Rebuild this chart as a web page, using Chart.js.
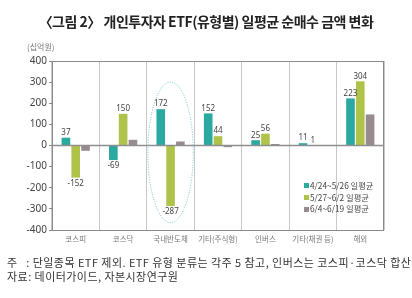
<!DOCTYPE html>
<html><head><meta charset="utf-8">
<script src="https://cdn.jsdelivr.net/npm/chart.js@4/dist/chart.umd.min.js"></script>
<style>
html,body{margin:0;padding:0;background:#fff;}
#wrap{position:relative;width:412px;height:298px;overflow:hidden;font-family:"Noto Sans CJK KR","Noto Sans",sans-serif;}
#c{position:absolute;left:0;top:0;}
.t{position:absolute;white-space:nowrap;}
#title{left:0;width:412px;top:11px;text-align:center;font-size:14px;font-weight:bold;color:#222;letter-spacing:-0.5px;}
#unit{left:27px;top:41px;font-size:8px;color:#777;}
#f1{left:7px;top:254px;font-size:11px;color:#333;letter-spacing:0.45px;}
#f2{left:7px;top:268px;font-size:11px;color:#333;letter-spacing:0.45px;}
#legend{position:absolute;left:304px;top:180px;font-size:8.3px;color:#444;}
#legend div{height:11.7px;line-height:11.7px;}
#legend span.sw{display:inline-block;width:5px;height:5px;margin-right:1px;vertical-align:middle;position:relative;top:-1px;}
</style></head>
<body><div id="wrap">
<canvas id="c" width="412" height="298"></canvas>
<div class="t" id="title">〈그림 2〉 개인투자자 ETF(유형별) 일평균 순매수 금액 변화</div>
<div class="t" id="unit">(십억원)</div>
<div id="legend"></div>
<div class="t" id="f1">주&nbsp;&nbsp;&nbsp;: 단일종목 ETF 제외. ETF 유형 분류는 각주 5 참고, 인버스는 코스피·코스닥 합산</div>
<div class="t" id="f2">자료: 데이터가이드, 자본시장연구원</div>
</div>
<script>
const categories = ['코스피','코스닥','국내반도체','기타(주식형)','인버스','기타(채권 등)','해외'];
const seriesNames = ['4/24~5/26 일평균','5/27~6/2 일평균','6/4~6/19 일평균'];
const series1 = [37, -69, 172, 152, 25, 11, 223];
const series2 = [-152, 150, -287, 44, 56, 1, 304];
const series3 = [-25, 27, 19, -8, 7, 1, 147];
const yTicks = [-400,-300,-200,-100,0,100,200,300,400];
const colors = ['#2aa9a0','#afc34b','#978b90'];
const showLabels = [true,true,false];

const lg = document.getElementById('legend');
seriesNames.forEach((n,i)=>{
  const d=document.createElement('div');
  d.innerHTML='<span class="sw" style="background:'+colors[i]+'"></span>'+n;
  lg.appendChild(d);
});

const framePlugin = {
  id:'frame',
  beforeDatasetsDraw(chart){
    const {ctx, chartArea:a} = chart;
    ctx.save();
    ctx.strokeStyle='#8a8a8a'; ctx.lineWidth=1;
    ctx.strokeRect(a.left+0.5, a.top+0.5, a.right-a.left-1, a.bottom-a.top);
    ctx.restore();
  },
  afterDatasetsDraw(chart){
    const {ctx, chartArea:a, scales} = chart;
    const y0 = scales.y.getPixelForValue(0);
    ctx.save();
    ctx.strokeStyle='#8e8e8e'; ctx.lineWidth=1.5;
    ctx.beginPath(); ctx.moveTo(a.left,y0); ctx.lineTo(a.right,y0); ctx.stroke();
    ctx.font='8px "Noto Sans","DejaVu Sans",sans-serif';
    ctx.fillStyle='#444'; ctx.textAlign='center';
    chart.data.datasets.forEach((ds,di)=>{
      if(!showLabels[di]) return;
      const meta=chart.getDatasetMeta(di);
      meta.data.forEach((bar,i)=>{
        const v=ds.data[i];
        if(v>=0){ctx.textBaseline='bottom';ctx.fillText(String(v),bar.x,bar.y-1);}
        else {ctx.textBaseline='top';ctx.fillText(String(v),bar.x,bar.y+2);}
      });
    });
    const xs=scales.x;
    const cx=xs.getPixelForValue(2);
    const w=(xs.getPixelForValue(1)-xs.getPixelForValue(0));
    const yt=scales.y.getPixelForValue(300), yb=scales.y.getPixelForValue(-365);
    ctx.strokeStyle='#6cc3cc'; ctx.lineWidth=1; ctx.setLineDash([1,1.5]);
    ctx.beginPath(); ctx.ellipse(cx,(yt+yb)/2,w/2-1,(yb-yt)/2,0,0,Math.PI*2); ctx.stroke();
    ctx.restore();
  }
};

new Chart(document.getElementById('c'),{
  type:'bar',
  data:{labels:categories,datasets:[series1,series2,series3].map((d,i)=>({
    label:seriesNames[i],data:d,backgroundColor:colors[i],
    categoryPercentage:0.62,barPercentage:0.88}))},
  options:{
    responsive:false,animation:false,devicePixelRatio:1,
    layout:{padding:{left:0,right:28,top:61,bottom:48}},
    plugins:{legend:{display:false},tooltip:{enabled:false}},
    scales:{
      x:{grid:{offset:true,color:'#c8c8c8',lineWidth:1,drawTicks:false},
         border:{display:false},
         ticks:{color:'#777',font:{size:7.5,family:'"Noto Sans CJK KR",sans-serif'},padding:5,maxRotation:0,autoSkip:false},
         afterFit(s){s.height=20;}},
      y:{min:-400,max:400,
         afterBuildTicks(s){s.ticks=yTicks.map(v=>({value:v}));},
         grid:{drawOnChartArea:false,tickLength:3,color:'#8a8a8a'},
         border:{color:'#8a8a8a'},
         ticks:{color:'#444',font:{size:10,family:'"Noto Sans","DejaVu Sans",sans-serif'},padding:2},
         afterFit(s){s.width=52;}}
    }
  },
  plugins:[framePlugin]
});
</script>
</body></html>
